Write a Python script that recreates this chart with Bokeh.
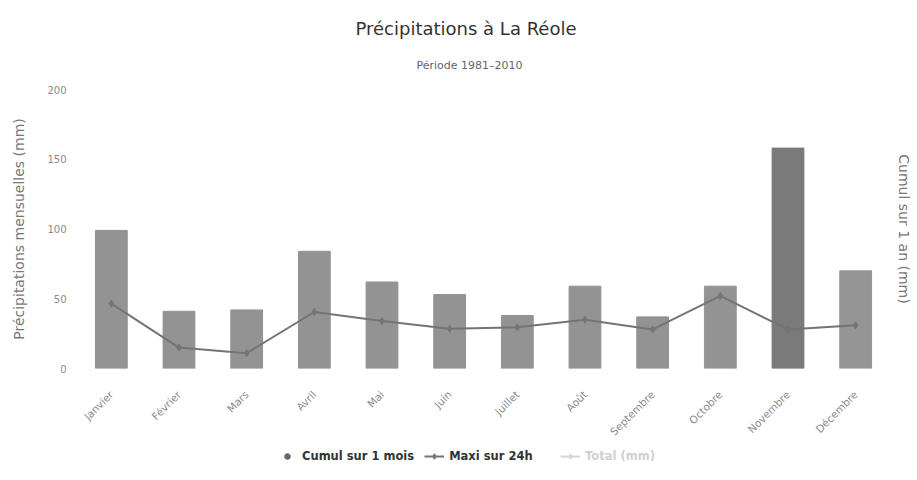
from math import pi
from bokeh.plotting import figure
from bokeh.layouts import column
from bokeh.models import (Range1d, LinearAxis, FixedTicker, Title, Legend, LegendItem, ColumnDataSource)
from bokeh.embed import file_html
from bokeh.resources import INLINE

months = ["Janvier", "Février", "Mars", "Avril", "Mai", "Juin", "Juillet",
          "Août", "Septembre", "Octobre", "Novembre", "Décembre"]
cumul_mois = [99, 41, 42, 84, 62, 53, 38, 59, 37, 59, 158, 70]
maxi_24h = [46.5, 15, 11, 40.5, 34, 28.5, 29.5, 35, 28, 52, 28, 31]
bar_colors = ["#939393"] * 10 + ["#7a7a7a", "#959595"]
y_ticks = [0, 50, 100, 150, 200]
legend_labels = ["Cumul sur 1 mois", "Maxi sur 24h", "Total (mm)"]

FONT = "DejaVu Sans"
LINE_C = "#747474"

p = figure(x_range=months, y_range=Range1d(0, 200), frame_width=812, frame_height=279,
           output_backend="svg", toolbar_location=None, title=None,
           min_border_left=77, min_border_right=10, min_border_top=89, min_border_bottom=75)
p.outline_line_color = None
p.background_fill_color = "white"
p.border_fill_color = "white"
p.xgrid.grid_line_color = None
p.ygrid.grid_line_color = None

src = ColumnDataSource(dict(m=months, v=cumul_mois, c=bar_colors))
p.vbar(x="m", top="v", width=0.47, color="c", source=src)
p.line(months, maxi_24h, line_color=LINE_C, line_width=2)
p.scatter(months, maxi_24h, size=7, marker="diamond", color=LINE_C)

p.extra_y_ranges = {"annual": Range1d(0, 1000)}
right = LinearAxis(y_range_name="annual", ticker=FixedTicker(ticks=[]),
                   axis_label="Cumul sur 1 an (mm)")
right.axis_line_color = None
right.major_tick_line_color = None
right.minor_tick_line_color = None
right.major_tick_out = 0
right.major_tick_in = 0
right.minor_tick_out = 0
right.major_label_standoff = 0
right.axis_label_standoff = 6
right.axis_label_text_font = FONT
right.axis_label_text_font_size = "14px"
right.axis_label_text_font_style = "normal"
right.axis_label_text_color = "#777777"
p.add_layout(right, "right")

ya = p.yaxis[0]
ya.ticker = FixedTicker(ticks=y_ticks)
ya.axis_line_color = None
ya.major_tick_line_color = None
ya.minor_tick_line_color = None
ya.major_tick_out = 0
ya.major_tick_in = 0
ya.minor_tick_out = 0
ya.major_label_standoff = 11
ya.major_label_text_font = FONT
ya.major_label_text_font_size = "10px"
ya.major_label_text_color = "#8a8a8a"
ya.axis_label = "Précipitations mensuelles (mm)"
ya.axis_label_standoff = 17
ya.axis_label_text_font = FONT
ya.axis_label_text_font_size = "14px"
ya.axis_label_text_font_style = "normal"
ya.axis_label_text_color = "#777777"

xa = p.xaxis[0]
xa.axis_line_color = None
xa.major_tick_line_color = None
xa.minor_tick_line_color = None
xa.major_tick_out = 0
xa.major_tick_in = 0
xa.minor_tick_out = 0
xa.major_label_orientation = pi / 4
xa.major_label_standoff = 24
xa.major_label_text_font = FONT
xa.major_label_text_font_size = "10.5px"
xa.major_label_text_color = "#8a8a8a"

p.add_layout(Title(text="Période 1981–2010", align="left", offset=339, standoff=36,
                   text_font=FONT, text_font_size="11px", text_font_style="normal",
                   text_color="#666666"), "above")
p.add_layout(Title(text="Précipitations à La Réole", align="left", offset=278, standoff=0,
                   text_font=FONT, text_font_size="18px", text_font_style="normal",
                   text_color="#333333"), "above")

# legend strip
lf = figure(width=912, height=20, x_range=Range1d(0, 1), y_range=Range1d(0, 1),
            output_backend="svg", toolbar_location=None, x_axis_type=None, y_axis_type=None,
            min_border_left=0, min_border_right=0, min_border_top=0, min_border_bottom=0)
lf.outline_line_color = None
lf.xgrid.grid_line_color = None
lf.ygrid.grid_line_color = None
nan = float("nan")
leg1 = lf.scatter([nan], [nan], size=11, color="#666666")
leg2l = lf.line([nan, nan], [nan, nan], line_color=LINE_C, line_width=2)
leg2m = lf.scatter([nan], [nan], size=8, marker="diamond", color=LINE_C)
leg3l = lf.line([nan, nan], [nan, nan], line_color="#d6d6d6", line_width=2)
leg3m = lf.scatter([nan], [nan], size=8, marker="diamond", color="#d6d6d6")

common = dict(orientation="horizontal", border_line_color=None, background_fill_alpha=0,
              label_text_font=FONT, label_text_font_size="11.5px", label_text_font_style="bold",
              glyph_width=20, glyph_height=14, spacing=10, label_standoff=5, margin=0, padding=2)
legend = Legend(items=[
    LegendItem(label=legend_labels[0], renderers=[leg1]),
    LegendItem(label=legend_labels[1], renderers=[leg2l, leg2m]),
], location=(200, 1), label_text_color="#333333", **common)
legend_off = Legend(items=[
    LegendItem(label=legend_labels[2], renderers=[leg3l, leg3m]),
], location=(483, 1), label_text_color="#d0d0d0", **common)
lf.add_layout(legend, "center")
lf.add_layout(legend_off, "center")

layout = column(p, lf, spacing=0)
open("out.html", "w").write(file_html(layout, INLINE))
